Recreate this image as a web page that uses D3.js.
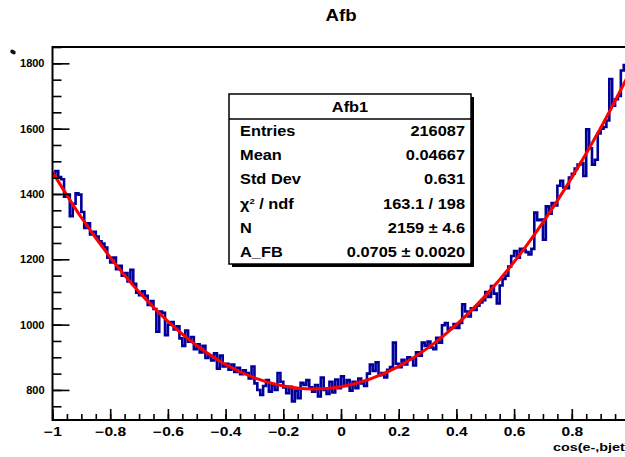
<!DOCTYPE html>
<html>
<head>
<meta charset="utf-8">
<script src="https://cdn.jsdelivr.net/npm/d3@7"></script>
<style>
  html, body { margin: 0; padding: 0; background: #fff; overflow: hidden; }
  text { font-family: "Liberation Sans", Arial, Helvetica, sans-serif; }
</style>
</head>
<body>
<div id="chart"></div>
<script>
// --- Data ---
const histTitle = "Afb";
const xTitle = "cos(e-,bjet)";
const xRange = [-1, 1];           // histogram range, 200 bins

// bin contents, left to right
const binCounts = [
  1458, 1470, 1452, 1445, 1392, 1398, 1332, 1370, 1402, 1398,
  1345, 1296, 1310, 1276, 1284, 1270, 1255, 1248, 1236, 1205,
  1190, 1205, 1170, 1180, 1150, 1158, 1132, 1168, 1125, 1098,
  1090, 1102, 1088, 1060, 1072, 1048, 978, 1040, 1036, 968,
  1000, 1008, 985, 995, 958, 935, 982, 948, 962, 925,
  940, 915, 935, 898, 905, 890, 912, 865, 905, 872,
  880, 862, 878, 855, 868, 848, 860, 852, 835, 872,
  820, 800, 785, 812, 830, 795, 815, 800, 852, 825,
  808, 790, 810, 765, 798, 775, 822, 815, 830, 808,
  795, 815, 780, 838, 800, 788, 825, 792, 832, 805,
  842, 812, 830, 798, 825, 805, 835, 820, 812, 850,
  878, 858, 885, 845, 852, 838, 862, 870, 945, 880,
  870, 892, 878, 900, 895, 875, 915, 905, 945, 935,
  948, 930, 925, 960, 945, 998, 1005, 985, 990, 1002,
  990, 1005, 1062, 1040, 1025, 1050, 1045, 1058, 1068, 1075,
  1100, 1085, 1118, 1095, 1065, 1120, 1140, 1150, 1178, 1210,
  1225, 1205, 1232, 1228, 1222, 1215, 1232, 1343, 1320, 1322,
  1260, 1362, 1340, 1372, 1365, 1425, 1440, 1420, 1418, 1450,
  1462, 1478, 1490, 1495, 1455, 1598, 1540, 1490, 1505, 1585,
  1600, 1605, 1625, 1752, 1670, 1690, 1700, 1778, 1795, 1770
];

// red fit curve
const fitX = [-1, -0.9, -0.8, -0.7, -0.6, -0.5, -0.4, -0.3, -0.2, -0.1, 0,
              0.1, 0.2, 0.3, 0.4, 0.5, 0.6, 0.7, 0.8, 0.9, 1];
const fitY = [1467, 1328, 1206, 1100, 1010, 936, 878, 837, 812, 803, 810,
              833, 872, 928, 1000, 1088, 1192, 1313, 1450, 1602, 1771];

const xTickValues = [-1, -0.8, -0.6, -0.4, -0.2, 0, 0.2, 0.4, 0.6, 0.8];
const yTickValues = [800, 1000, 1200, 1400, 1600, 1800];

const statsTitle = "Afb1";
const statsLabels = ["Entries", "Mean", "Std Dev", "χ2 / ndf", "N", "A_FB"];
const statsValues = ["216087", "0.04667", "0.631", "163.1 / 198", "2159 ± 4.6", "0.0705 ± 0.0020"];

// --- Layout ---
const width = 625, height = 457;
const frame = { left: 52.5, right: 629.5, top: 47, bottom: 420 };

const svg = d3.select("#chart").append("svg")
  .attr("width", width)
  .attr("height", height);

const x = d3.scaleLinear().domain(xRange).range([frame.left, frame.right]);
const y = d3.scaleLinear().domain([708, 1850]).range([frame.bottom, frame.top]);

svg.append("defs").append("clipPath").attr("id", "clip")
  .append("rect")
  .attr("x", frame.left).attr("y", frame.top)
  .attr("width", frame.right - frame.left)
  .attr("height", frame.bottom - frame.top);

// Title
svg.append("text")
  .attr("transform", `translate(341,21) scale(1.1,1)`)
  .attr("text-anchor", "middle")
  .attr("font-size", 17)
  .attr("font-weight", "bold")
  .text(histTitle);

// --- Histogram (step line) ---
const nBins = binCounts.length;
const binW = (xRange[1] - xRange[0]) / nBins;
const steps = binCounts.map((v, i) => [xRange[0] + i * binW, v]);
steps.push([xRange[1], binCounts[nBins - 1]]);

const plot = svg.append("g").attr("clip-path", "url(#clip)");

plot.append("path")
  .datum(steps)
  .attr("fill", "none")
  .attr("stroke", "#000099")
  .attr("stroke-width", 2.6)
  .attr("stroke-linejoin", "miter")
  .attr("d", d3.line().x(d => x(d[0])).y(d => y(d[1])).curve(d3.curveStepAfter));

// Fit curve
plot.append("path")
  .datum(fitX.map((v, i) => [v, fitY[i]]))
  .attr("fill", "none")
  .attr("stroke", "#ff0000")
  .attr("stroke-width", 3)
  .attr("d", d3.line().x(d => x(d[0])).y(d => y(d[1])).curve(d3.curveCatmullRom));

// --- Axes ---
const fmt = d => (Math.round(d * 10) / 10).toString().replace("-", "\u2212");

// x minor ticks
svg.append("g")
  .attr("transform", `translate(0,${frame.bottom})`)
  .call(d3.axisBottom(x).tickValues(d3.range(-20, 21).map(k => k * 0.05)).tickSizeInner(-6).tickSizeOuter(0).tickFormat(""))
  .call(g => g.select(".domain").remove())
  .selectAll("line").attr("stroke", "#000").attr("stroke-width", 1.6);

// x major ticks + labels
const xAxisG = svg.append("g")
  .attr("transform", `translate(0,${frame.bottom})`)
  .call(d3.axisBottom(x).tickValues(xTickValues).tickSizeInner(-11).tickSizeOuter(0).tickPadding(7).tickFormat(fmt))
  .call(g => g.select(".domain").remove());
xAxisG.selectAll("line").attr("stroke", "#000").attr("stroke-width", 1.6);
xAxisG.selectAll("text")
  .attr("font-size", 12)
  .attr("font-weight", "bold")
  .attr("fill", "#000")
  .attr("font-family", "Liberation Sans, Arial, sans-serif")
  .attr("transform", "scale(1.3,1)");

// y minor ticks
svg.append("g")
  .attr("transform", `translate(${frame.left},0)`)
  .call(d3.axisLeft(y).tickValues(d3.range(750, 1851, 50)).tickSizeInner(-9).tickSizeOuter(0).tickFormat(""))
  .call(g => g.select(".domain").remove())
  .selectAll("line").attr("stroke", "#000").attr("stroke-width", 1.6);

// y major ticks + labels
const yAxisG = svg.append("g")
  .attr("transform", `translate(${frame.left},0)`)
  .call(d3.axisLeft(y).tickValues(yTickValues).tickSizeInner(-17).tickSizeOuter(0).tickPadding(8).tickFormat(d3.format("d")))
  .call(g => g.select(".domain").remove());
yAxisG.selectAll("line").attr("stroke", "#000").attr("stroke-width", 1.6);
yAxisG.selectAll("text")
  .attr("font-size", 11)
  .attr("font-weight", "bold")
  .attr("fill", "#000")
  .attr("font-family", "Liberation Sans, Arial, sans-serif");

// Frame
svg.append("rect")
  .attr("x", frame.left).attr("y", frame.top)
  .attr("width", frame.right - frame.left)
  .attr("height", frame.bottom - frame.top)
  .attr("fill", "none")
  .attr("stroke", "#000")
  .attr("stroke-width", 2);

// small mark at the top of the y axis
svg.append("ellipse")
  .attr("cx", 13).attr("cy", 52).attr("rx", 3).attr("ry", 2)
  .attr("transform", "rotate(30,13,52)")
  .attr("fill", "#111");

// x axis title (cut by the right edge, as in the reference)
svg.append("text")
  .attr("transform", "translate(553,451) scale(1.25,1)")
  .attr("font-size", 11.5)
  .attr("font-weight", "bold")
  .text(xTitle);

// --- Stats box ---
const box = { x: 229, y: 94, w: 242, h: 170, head: 25 };
const fs = 14, sx = 1.17;
const stats = svg.append("g");

stats.append("rect")
  .attr("x", box.x + 3).attr("y", box.y + 3)
  .attr("width", box.w).attr("height", box.h)
  .attr("fill", "#000");
stats.append("rect")
  .attr("x", box.x).attr("y", box.y)
  .attr("width", box.w).attr("height", box.h)
  .attr("fill", "#fff")
  .attr("stroke", "#000")
  .attr("stroke-width", 1.5);
stats.append("line")
  .attr("x1", box.x).attr("x2", box.x + box.w)
  .attr("y1", box.y + box.head).attr("y2", box.y + box.head)
  .attr("stroke", "#000").attr("stroke-width", 1.5);

stats.append("text")
  .attr("transform", `translate(${box.x + box.w / 2},${box.y + 18}) scale(${sx},1)`)
  .attr("text-anchor", "middle")
  .attr("font-size", fs)
  .attr("font-weight", "bold")
  .text(statsTitle);

const rowH = (box.h - box.head) / statsLabels.length;
statsLabels.forEach((label, i) => {
  const by = box.y + box.head + rowH * i + rowH / 2 + 5;
  const t = stats.append("text")
    .attr("transform", `translate(${box.x + 11},${by}) scale(${sx},1)`)
    .attr("font-size", fs)
    .attr("font-weight", "bold");
  if (label.startsWith("χ2")) {
    t.append("tspan").text("χ");
    t.append("tspan").attr("font-size", 8).attr("dy", -5).text("2");
    t.append("tspan").attr("dy", 5).text(label.slice(2));
  } else {
    t.text(label);
  }
  stats.append("text")
    .attr("transform", `translate(${box.x + box.w - 6},${by}) scale(${sx},1)`)
    .attr("text-anchor", "end")
    .attr("font-size", fs)
    .attr("font-weight", "bold")
    .text(statsValues[i]);
});
</script>
</body>
</html>
